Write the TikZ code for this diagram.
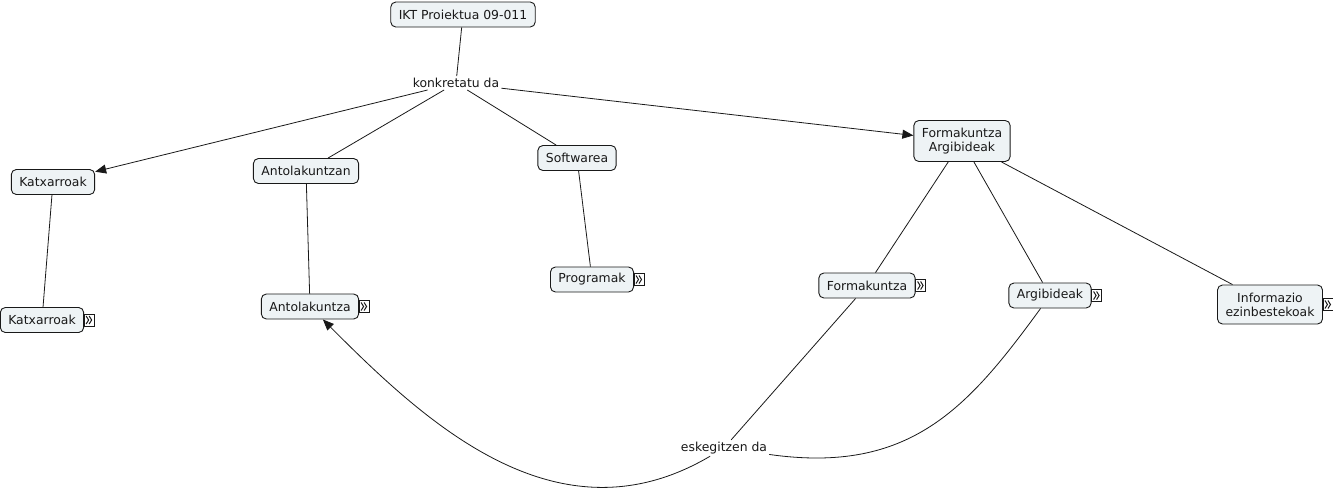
\documentclass[tikz,border=0pt]{standalone}
\usepackage{fontspec}
\setmainfont{DejaVu Sans}
\usetikzlibrary{arrows.meta}
\definecolor{boxfill}{RGB}{238,243,245}
\definecolor{ink}{RGB}{25,25,25}
\tikzset{
  concept/.style={draw=ink, fill=boxfill, rounded corners=5pt, line width=0.9pt,
    inner xsep=8pt, inner ysep=3pt, minimum height=25pt, align=center,
    font=\fontsize{12.4}{14}\selectfont, text=ink},
  twoline/.style={minimum height=41pt},
  linkword/.style={inner sep=2pt, font=\fontsize{12.4}{14}\selectfont, text=ink, fill=white},
  conn/.style={draw=ink, line width=0.8pt},
  arr/.style={conn, -{Triangle[length=11pt,width=9pt]}},
  more/.pic={
    \draw[ink, fill=white, line width=0.8pt] (0,-6) rectangle (10,6);
    \draw[ink, line width=1pt] (2,-4) -- (4.5,0) -- (2,4);
    \draw[ink, line width=1pt] (5,-4) -- (7.5,0) -- (5,4);
  }
}
\begin{document}
\begin{tikzpicture}[x=1pt,y=-1pt]
\useasboundingbox (0,0) rectangle (1333,493);

% link labels
\node[linkword] (konk) at (456,83) {konkretatu da};
\node[linkword] (esk) at (724,448) {eskegitzen da};

% concepts
\node[concept] (ikt) at (463,14.5) {IKT Proiektua 09-011};
\node[concept] (katx1) at (53,182) {Katxarroak};
\node[concept] (ant1) at (306,171) {Antolakuntzan};
\node[concept] (soft) at (577,158) {Softwarea};
\node[concept, twoline] (fa) at (962,141) {Formakuntza\\Argibideak};
\node[concept] (katx2) at (42,320) {Katxarroak};
\node[concept] (ant2) at (310,306.5) {Antolakuntza};
\node[concept] (prog) at (592,279.5) {Programak};
\node[concept] (form) at (867,285.5) {Formakuntza};
\node[concept] (argi) at (1050,295.5) {Argibideak};
\node[concept, twoline, minimum height=39pt] (info) at (1270,304.5) {Informazio\\ezinbestekoak};

% resource icons
\pic at (katx2.east) {more};
\pic at (ant2.east) {more};
\pic at (prog.east) {more};
\pic at (form.east) {more};
\pic at (argi.east) {more};
\pic at (info.east) {more};

% connectors
\draw[conn] (ikt) -- (konk);
\draw[arr] (konk) -- (katx1);
\draw[conn] (konk) -- (ant1);
\draw[conn] (konk) -- (soft);
\draw[arr] (konk) -- (fa);
\draw[conn] (katx1) -- (katx2);
\draw[conn] (ant1) -- (ant2);
\draw[conn] (soft) -- (prog);
\draw[conn] (fa) -- (form);
\draw[conn] (fa) -- (argi);
\draw[conn] (fa) -- (info);
\draw[conn] (form) -- (esk);
\draw[conn] (argi) .. controls (968,408) and (910,474.5) .. (esk);
\draw[arr] (esk) .. controls (558,546) and (426,423) .. (ant2);
\end{tikzpicture}
\end{document}
